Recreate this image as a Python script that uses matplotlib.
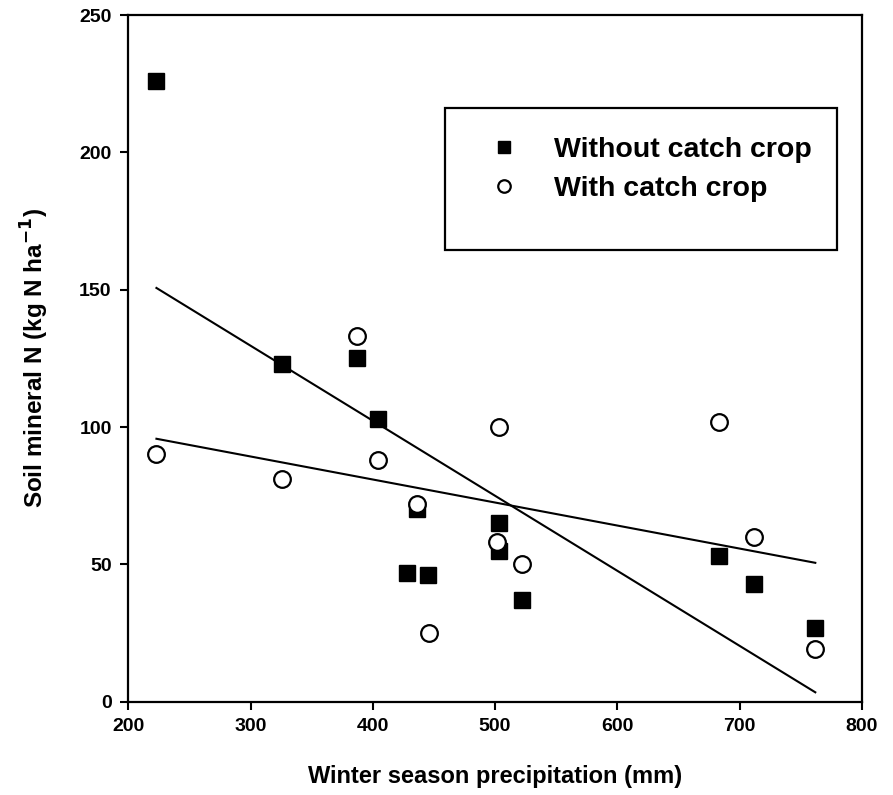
import numpy as np
import matplotlib
matplotlib.use('Agg')
import matplotlib.pyplot as plt
from matplotlib.patches import Rectangle

plt.rcParams['font.family'] = ['Liberation Sans', 'DejaVu Sans']
plt.rcParams['font.weight'] = 'bold'

# winter precipitation (mm) and soil mineral N (kg N/ha)
x_without = [223, 326, 387, 404, 436, 428, 445, 503, 503, 522, 683, 712, 762]
y_without = [226, 123, 125, 103, 70, 47, 46, 65, 55, 37, 53, 43, 27]
x_with = [223, 326, 387, 404, 436, 446, 503, 502, 522, 683, 712, 762]
y_with = [90, 81, 133, 88, 72, 25, 100, 58, 50, 102, 60, 19]

fig = plt.figure(figsize=(8.93, 7.95), dpi=100)
ax = fig.add_axes([0.1437, 0.1174, 0.8213, 0.8637])

# regression lines over the observed range
for xs, ys in [(x_without, y_without), (x_with, y_with)]:
    k, b = np.polyfit(xs, ys, 1)
    xx = np.array([min(xs), max(xs)])
    ax.plot(xx, k*xx + b, color='black', lw=1.5, zorder=2)

ax.plot(x_without, y_without, 's', color='black', ms=12, zorder=3,
        label='Without catch crop')
ax.plot(x_with, y_with, 'o', mfc='white', mec='black', mew=1.6, ms=12, zorder=4,
        label='With catch crop')

ax.set_xlim(200, 800)
ax.set_ylim(0, 250)
ax.set_xticks([200, 300, 400, 500, 600, 700, 800])
ax.set_yticks([0, 50, 100, 150, 200, 250])
ax.tick_params(direction='out', length=6, width=1.5, labelsize=14, pad=6)
for s in ax.spines.values():
    s.set_linewidth(1.6)
for lab in ax.get_xticklabels() + ax.get_yticklabels():
    lab.set_fontweight('bold')

ax.set_xlabel('Winter season precipitation (mm)', fontsize=17, fontweight='bold', labelpad=21)
ax.set_ylabel('Soil mineral N (kg N ha$^{\\mathbf{-1}}$)', fontsize=17.5, fontweight='bold', labelpad=20)

# legend box
ax.add_patch(Rectangle((0.432, 0.658), 0.534, 0.2066, transform=ax.transAxes,
                       fill=False, ec='black', lw=1.6, zorder=5))
leg = ax.legend(loc='upper left', bbox_to_anchor=(0.46, 0.86), frameon=False,
                fontsize=20.5, markerscale=0.75, handletextpad=1.3, labelspacing=0.45,
                handlelength=0.9)
for t in leg.get_texts():
    t.set_fontweight('bold')

fig.savefig('out.png', dpi=100)
